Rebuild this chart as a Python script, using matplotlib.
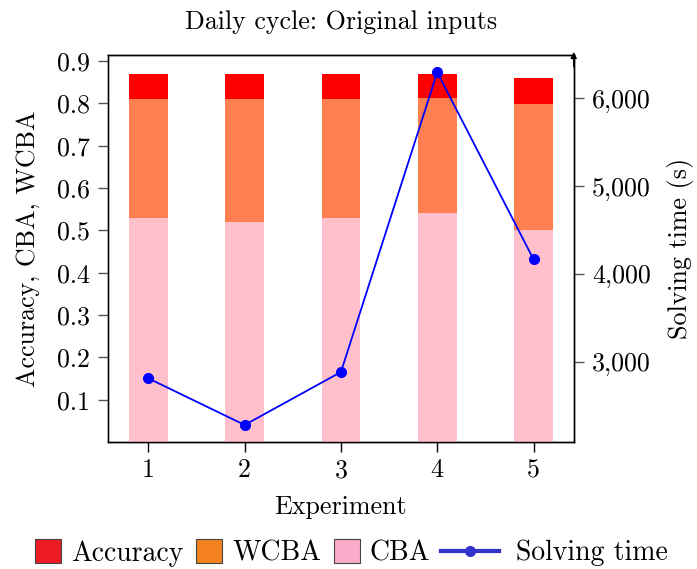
import matplotlib
matplotlib.use("Agg")
import matplotlib.pyplot as plt
from matplotlib.patches import Patch
from matplotlib.lines import Line2D
from matplotlib.ticker import FuncFormatter, FixedLocator

plt.rcParams['font.family'] = ['cmr10', 'DejaVu Serif']
plt.rcParams['axes.formatter.use_mathtext'] = True
plt.rcParams['mathtext.fontset'] = 'cm'

experiments = [1, 2, 3, 4, 5]
accuracy = [0.87, 0.87, 0.87, 0.87, 0.86]
wcba = [0.81, 0.81, 0.81, 0.813, 0.798]
cba = [0.53, 0.52, 0.53, 0.54, 0.50]
solving_time = [2811, 2280, 2883, 6296, 4166]

left_ticks = [0.1, 0.2, 0.3, 0.4, 0.5, 0.6, 0.7, 0.8, 0.9]
right_ticks = [3000, 4000, 5000, 6000]

fs = 18.7
fs_leg = 20
W, H = 697, 569
fig = plt.figure(figsize=(W / 100, H / 100), dpi=100)
ax = fig.add_axes([107.7 / W, 1 - 442 / H, (573.7 - 107.7) / W, (442 - 55) / H])

bw = 0.4
ax.bar(experiments, accuracy, width=bw, color='#ff0000', zorder=1)
ax.bar(experiments, wcba, width=bw, color='#ff7f50', zorder=2)
ax.bar(experiments, cba, width=bw, color='#ffc0cb', zorder=3)

ax.set_xlim(0.578, 5.417)
ax.set_ylim(0.0, 0.9145)
ax.set_xticks(experiments)
ax.set_xticklabels([str(e) for e in experiments])
ax.yaxis.set_major_locator(FixedLocator(left_ticks))
ax.set_yticklabels([f"{t:.1f}" for t in left_ticks])
ax.tick_params(axis='both', direction='out', length=7, width=1, labelsize=fs)
ax.tick_params(axis='x', pad=5)
ax.tick_params(axis='y', colors='#555555', labelcolor='black', pad=6)
ax.set_xlabel('Experiment', fontsize=fs, labelpad=9)
ax.set_ylabel('Accuracy, CBA, WCBA', fontsize=fs, labelpad=12)
ax.set_title('Daily cycle: Original inputs', fontsize=fs, pad=19)
for side in ['left', 'bottom', 'top', 'right']:
    ax.spines[side].set_linewidth(1.0)
ax.spines['left'].set_color('#555555')

ax2 = ax.twinx()
ax2.plot(experiments, solving_time, color='#0000ff', lw=1.3, marker='o',
         markersize=7, zorder=5)
ax2.set_ylim(2086, 6493)
ax2.yaxis.set_major_locator(FixedLocator(right_ticks))
ax2.yaxis.set_major_formatter(FuncFormatter(lambda v, p: f"{v:,.0f}"))
ax2.tick_params(axis='y', direction='out', length=7, width=1, labelsize=fs,
                colors='#555555', labelcolor='black', pad=6)
ax2.set_ylabel('Solving time (s)', fontsize=fs, labelpad=12)
for side in ['left', 'bottom', 'top', 'right']:
    ax2.spines[side].set_linewidth(1.0)
ax2.annotate('', xy=(1.0, 1.008), xytext=(1.0, 0.97), xycoords='axes fraction',
             arrowprops=dict(arrowstyle='-|>', lw=1.0, color='black',
                             mutation_scale=9, shrinkA=0, shrinkB=0))

bar_handles = [
    Patch(facecolor='#ed1c24', edgecolor='#444444', lw=0.8, label='Accuracy'),
    Patch(facecolor='#f58220', edgecolor='#444444', lw=0.8, label='WCBA'),
    Patch(facecolor='#fcaac9', edgecolor='#444444', lw=0.8, label='CBA'),
]
line_handle = [
    Line2D([], [], color='#3333cc', lw=3, marker='o', markersize=7,
           label='Solving time'),
]
leg_y = 1 - 553 / H
leg1 = fig.legend(handles=bar_handles, loc='center left',
                  bbox_to_anchor=(35 / W, leg_y), ncol=3, frameon=False,
                  fontsize=fs_leg, handlelength=0.95, handleheight=0.9,
                  handletextpad=0.35, columnspacing=0.45, borderpad=0,
                  borderaxespad=0)
leg2 = fig.legend(handles=line_handle, loc='center left',
                  bbox_to_anchor=(441 / W, leg_y), frameon=False,
                  fontsize=fs_leg, handlelength=2.1, handletextpad=0.6,
                  borderpad=0, borderaxespad=0)

fig.savefig('out.png', dpi=100)
